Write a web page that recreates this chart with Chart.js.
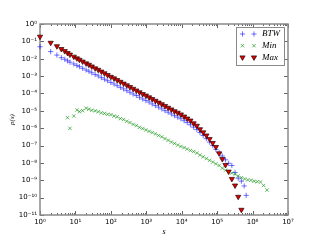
<!DOCTYPE html>
<html>
<head>
<meta charset="utf-8">
<script src="https://cdn.jsdelivr.net/npm/chart.js@4.4.1/dist/chart.umd.min.js"></script>
<style>
html,body{margin:0;padding:0;background:#fff;}
canvas{display:block;}
</style>
</head>
<body>
<canvas id="c" width="320" height="240"></canvas>
<script>
// ---- data ----
const seriesNames = ['BTW', 'Min', 'Max'];

const btwS = [1,2,3,4,5,6,7,9,11,13,16,20,24,29,36,44,54,66,81,100,123,151,186,229,282,346,426,524,644,793,975,1200,1470,1810,2230,2740,3370,4140,5100,6270,7710,9480,11700,14300,17600,21700,26700,32800,40400,49700,61100,75100,92400,114000,140000,172000,211000,260000,320000,393000,484000,580000,660000];
const btwP = [4.9e-2,2.57e-2,1.62e-2,1.15e-2,9.3e-3,7.6e-3,6.3e-3,5.0e-3,4.1e-3,3.5e-3,2.8e-3,2.24e-3,1.9e-3,1.55e-3,1.23e-3,1.02e-3,8.1e-4,6.6e-4,5.4e-4,4.3e-4,3.5e-4,2.8e-4,2.24e-4,1.82e-4,1.45e-4,1.17e-4,9.3e-5,7.6e-5,6.0e-5,4.8e-5,3.9e-5,3.2e-5,2.5e-5,2.0e-5,1.62e-5,1.29e-5,1.02e-5,8.3e-6,6.6e-6,5.25e-6,4.3e-6,3.5e-6,2.7e-6,2.1e-6,1.58e-6,1.15e-6,8.3e-7,5.6e-7,3.8e-7,2.5e-7,1.58e-7,1.0e-7,6.0e-8,3.8e-8,2.5e-8,1.51e-8,9.5e-9,7.1e-9,2.8e-9,1.32e-9,8.9e-10,4.7e-10,1.35e-10];

const minS = [6,7,9,11,13,16,20,24,29,36,44,54,66,81,100,123,151,186,229,282,346,426,524,644,793,975,1200,1470,1810,2230,2740,3370,4140,5100,6270,7710,9480,11700,14300,17600,21700,26700,32800,40400,49700,61100,75100,92400,114000,140000,172000,211000,260000,320000,393000,484000,595000,732000,900000,1110000,1360000,1680000,2060000,2540000];
const minP = [4.0e-6,9.8e-7,5.0e-6,1.12e-5,8.9e-6,1.02e-5,1.41e-5,1.23e-5,1.07e-5,1.0e-5,8.9e-6,7.6e-6,7.1e-6,6.3e-6,6.0e-6,5.0e-6,4.5e-6,3.55e-6,3.16e-6,2.5e-6,2.1e-6,1.66e-6,1.41e-6,1.12e-6,9.5e-7,7.9e-7,6.6e-7,5.6e-7,4.7e-7,3.8e-7,3.16e-7,2.5e-7,2.0e-7,1.58e-7,1.32e-7,1.07e-7,8.9e-8,7.6e-8,6.3e-8,5.25e-8,4.5e-8,3.7e-8,2.8e-8,2.24e-8,1.78e-8,1.41e-8,1.12e-8,8.9e-9,7.1e-9,5.0e-9,3.8e-9,3.16e-9,2.6e-9,2.24e-9,1.78e-9,1.41e-9,1.2e-9,1.05e-9,1.0e-9,8.9e-10,8.3e-10,7.9e-10,5.0e-10,2.75e-10];

const maxS = [1,2,3,4,5,6,7,9,11,13,16,20,24,29,36,44,54,66,81,100,123,151,186,229,282,346,426,524,644,793,975,1200,1470,1810,2230,2740,3370,4140,5100,6270,7710,9480,11700,14300,17600,21700,26700,32800,40400,49700,61100,75100,92400,114000,140000,172000,211000,260000,320000,393000,484000];
const maxP = [1.86e-1,8.3e-2,5.25e-2,3.63e-2,2.75e-2,2.14e-2,1.74e-2,1.32e-2,1.05e-2,8.7e-3,6.9e-3,5.4e-3,4.5e-3,3.6e-3,2.8e-3,2.3e-3,1.82e-3,1.45e-3,1.15e-3,9.1e-4,7.4e-4,5.9e-4,4.7e-4,3.7e-4,2.95e-4,2.34e-4,1.86e-4,1.48e-4,1.17e-4,9.3e-5,7.6e-5,6.0e-5,4.8e-5,3.8e-5,3.0e-5,2.4e-5,1.9e-5,1.5e-5,1.2e-5,9.5e-6,7.8e-6,6.2e-6,4.7e-6,3.6e-6,2.75e-6,1.9e-6,1.38e-6,8.7e-7,5.75e-7,3.8e-7,2.4e-7,1.41e-7,8.3e-8,3.55e-8,1.66e-8,7.6e-9,3.16e-9,1.2e-9,5.0e-10,1.12e-10,2.0e-11];

const xTickValues = [1,10,100,1000,10000,100000,1000000,10000000];
const xTickLabels = ['10\u2070','10\u00b9','10\u00b2','10\u00b3','10\u2074','10\u2075','10\u2076','10\u2077'];
const yTickValues = [1,1e-1,1e-2,1e-3,1e-4,1e-5,1e-6,1e-7,1e-8,1e-9,1e-10,1e-11];
const yTickLabels = ['10\u2070','10\u207b\u00b9','10\u207b\u00b2','10\u207b\u00b3','10\u207b\u2074','10\u207b\u2075','10\u207b\u2076','10\u207b\u2077','10\u207b\u2078','10\u207b\u2079','10\u207b\u00b9\u2070','10\u207b\u00b9\u00b9'];
const xMinorMultipliers = [2,3,4,5,6,7,8,9];
const xTitle = 's';
const yTitle = 'p(s)';

// ---- chart ----
const pts = (xs, ys) => xs.map((x, i) => ({x: x, y: ys[i]}));

const styles = {
  BTW: {pointStyle: 'cross', radius: 2.6, borderColor: 'rgba(20,20,255,0.6)', backgroundColor: 'rgba(20,20,255,0.6)', borderWidth: 1, rotation: 0},
  Min: {pointStyle: 'crossRot', radius: 2.4, borderColor: 'rgba(0,140,0,0.6)', backgroundColor: 'rgba(0,140,0,0.6)', borderWidth: 1, rotation: 0},
  Max: {pointStyle: 'triangle', radius: 3, borderColor: '#2a0000', backgroundColor: '#e00000', borderWidth: 0.7, rotation: 180}
};

function ds(name, xs, ys, order) {
  const s = styles[name];
  return {
    label: name, data: pts(xs, ys), order: order, showLine: false, clip: false,
    pointStyle: s.pointStyle, pointRadius: s.radius, pointHoverRadius: s.radius,
    pointBorderColor: s.borderColor, pointBackgroundColor: s.backgroundColor,
    pointBorderWidth: s.borderWidth, pointRotation: s.rotation
  };
}

const decorPlugin = {
  id: 'decor',
  beforeDatasetsDraw(chart) {
    const ctx = chart.ctx, a = chart.chartArea;
    const xs = chart.scales.x, ys = chart.scales.y;
    ctx.save();
    // inward ticks
    ctx.strokeStyle = '#666';
    ctx.lineWidth = 1;
    ctx.beginPath();
    xTickValues.forEach((v, i) => {
      const px = Math.round(xs.getPixelForValue(v)) + 0.5;
      ctx.moveTo(px, a.bottom); ctx.lineTo(px, a.bottom - 4);
      ctx.moveTo(px, a.top); ctx.lineTo(px, a.top + 4);
      if (i < xTickValues.length - 1) {
        xMinorMultipliers.forEach(m => {
          const q = Math.round(xs.getPixelForValue(v * m)) + 0.5;
          ctx.moveTo(q, a.bottom); ctx.lineTo(q, a.bottom - 2);
          ctx.moveTo(q, a.top); ctx.lineTo(q, a.top + 2);
        });
      }
    });
    yTickValues.forEach(v => {
      const py = Math.round(ys.getPixelForValue(v)) + 0.5;
      ctx.moveTo(a.left, py); ctx.lineTo(a.left + 4, py);
      ctx.moveTo(a.right, py); ctx.lineTo(a.right - 4, py);
    });
    ctx.stroke();
    // frame
    ctx.strokeStyle = '#8a8a8a';
    ctx.lineWidth = 1.5;
    ctx.strokeRect(a.left, a.top, a.right - a.left, a.bottom - a.top);
    ctx.restore();
  },
  afterDraw(chart) {
    const ctx = chart.ctx;
    ctx.save();
    // legend
    const lx = 236.5, ly = 27.5, lw = 48, lh = 38;
    ctx.fillStyle = '#fff';
    ctx.fillRect(lx, ly, lw, lh);
    ctx.strokeStyle = '#8a8a8a';
    ctx.lineWidth = 1;
    ctx.strokeRect(lx, ly, lw, lh);
    ctx.font = 'italic 9px "Liberation Serif"';
    ctx.textBaseline = 'middle';
    ctx.textAlign = 'left';
    seriesNames.forEach((name, i) => {
      const y = 34 + i * 11.7;
      const s = styles[name];
      const o = {pointStyle: s.pointStyle, radius: s.radius, rotation: s.rotation, borderWidth: s.borderWidth};
      ctx.strokeStyle = s.borderColor; ctx.fillStyle = s.backgroundColor; ctx.lineWidth = s.borderWidth;
      Chart.helpers.drawPoint(ctx, o, 242.5, y);
      ctx.strokeStyle = s.borderColor; ctx.fillStyle = s.backgroundColor; ctx.lineWidth = s.borderWidth;
      Chart.helpers.drawPoint(ctx, o, 254, y);
      ctx.fillStyle = '#000';
      ctx.fillText(name, 262, y);
    });
    ctx.restore();
  }
};

new Chart(document.getElementById('c'), {
  type: 'scatter',
  data: {
    datasets: [
      ds('Max', maxS, maxP, 0),
      ds('Min', minS, minP, 1),
      ds('BTW', btwS, btwP, 2)
    ]
  },
  options: {
    responsive: false,
    animation: false,
    devicePixelRatio: 1,
    layout: {padding: {top: 24, right: 32, left: 0, bottom: 0}},
    plugins: {legend: {display: false}, tooltip: {enabled: false}},
    scales: {
      x: {
        type: 'logarithmic', position: 'bottom', min: 1, max: 1e7,
        grid: {display: false, drawTicks: false},
        border: {display: false},
        afterBuildTicks(scale) { scale.ticks = xTickValues.map(v => ({value: v})); },
        afterFit(scale) { scale.height = 25; },
        ticks: {
          autoSkip: false, maxRotation: 0, padding: 3, color: '#000',
          font: {family: 'DejaVu Sans', size: 7},
          callback(v) { const i = xTickValues.indexOf(v); return i >= 0 ? xTickLabels[i] : ''; }
        },
        title: {display: true, text: xTitle, color: '#000', font: {family: 'Liberation Serif', style: 'italic', size: 8}, padding: {top: 0, bottom: 3}}
      },
      y: {
        type: 'logarithmic', position: 'left', min: 1e-11, max: 1,
        grid: {display: false, drawTicks: false},
        border: {display: false},
        afterBuildTicks(scale) { scale.ticks = yTickValues.map(v => ({value: v})); },
        afterFit(scale) { scale.width = 40; },
        ticks: {
          autoSkip: false, padding: 3, color: '#000',
          font: {family: 'DejaVu Sans', size: 7},
          callback(v) { const i = yTickValues.findIndex(t => Math.abs(Math.log10(t) - Math.log10(v)) < 1e-6); return i >= 0 ? yTickLabels[i] : ''; }
        },
        title: {display: true, text: yTitle, color: '#000', font: {family: 'Liberation Serif', style: 'italic', size: 7}, padding: {top: 8, bottom: 0}}
      }
    }
  },
  plugins: [decorPlugin]
});
</script>
</body>
</html>
